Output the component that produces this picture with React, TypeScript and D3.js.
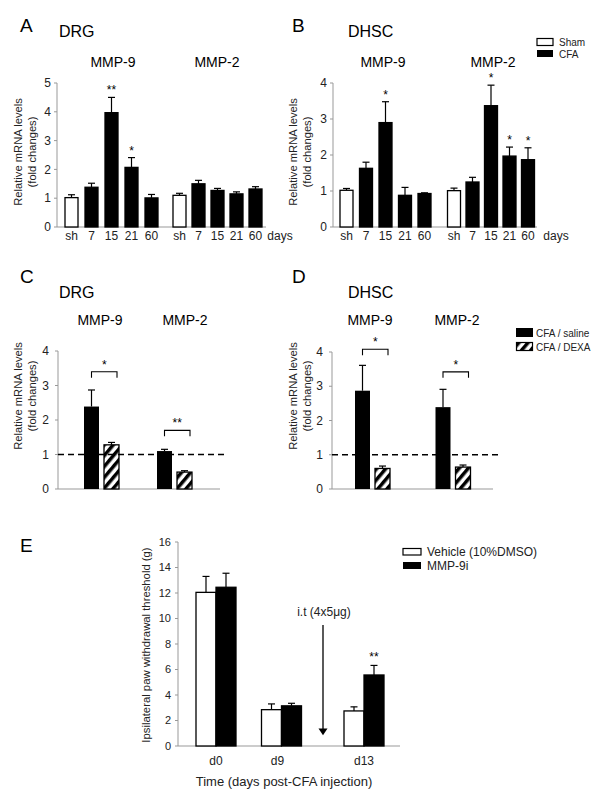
import React from "react";
import * as d3 from "d3";

// ---------- DATA ----------
const days = ["sh", "7", "15", "21", "60"];
const genes = ["MMP-9", "MMP-2"];

// Panel A (DRG time course)
const drgMmp9 = [1.02, 1.38, 3.97, 2.07, 1.01];
const drgMmp9Err = [0.1, 0.14, 0.53, 0.34, 0.12];
const drgMmp9Sig = ["", "", "**", "*", ""];
const drgMmp2 = [1.1, 1.5, 1.27, 1.15, 1.32];
const drgMmp2Err = [0.07, 0.12, 0.07, 0.07, 0.08];
const drgMmp2Sig = ["", "", "", "", ""];

// Panel B (DHSC time course)
const dhscMmp9 = [1.02, 1.63, 2.9, 0.88, 0.93];
const dhscMmp9Err = [0.05, 0.17, 0.58, 0.22, 0.02];
const dhscMmp9Sig = ["", "", "*", "", ""];
const dhscMmp2 = [1.01, 1.25, 3.37, 1.97, 1.87];
const dhscMmp2Err = [0.07, 0.13, 0.57, 0.25, 0.33];
const dhscMmp2Sig = ["", "", "*", "*", "*"];

// Panel C (DRG, saline vs DEXA)
const drgSaline = [2.39, 1.1];
const drgSalineErr = [0.48, 0.05];
const drgDexa = [1.28, 0.49];
const drgDexaErr = [0.07, 0.04];
const drgBracket = [3.4, 1.7];
const drgBracketSig = ["*", "**"];

// Panel D (DHSC, saline vs DEXA)
const dhscSaline = [2.87, 2.39];
const dhscSalineErr = [0.74, 0.52];
const dhscDexa = [0.6, 0.64];
const dhscDexaErr = [0.07, 0.06];
const dhscBracket = [4.08, 3.42];
const dhscBracketSig = ["*", "*"];

// Panel E (paw withdrawal)
const timepoints = ["d0", "d9", "d13"];
const vehicle = [12.05, 2.85, 2.75];
const vehicleErr = [1.25, 0.45, 0.32];
const mmp9i = [12.45, 3.15, 5.57];
const mmp9iErr = [1.1, 0.2, 0.75];
const mmp9iSig = ["", "", "**"];
const yTicksE = [0, 2, 4, 6, 8, 10, 12, 14, 16];

const FONT = "'Liberation Sans', Arial, Helvetica, sans-serif";
const AXIS = "#999";

type Lin = d3.ScaleLinear<number, number>;

function ErrorBar({ x, y, top, cap = 7 }: { x: number; y: number; top: number; cap?: number }) {
  return (
    <g stroke="#000" strokeWidth={1.2}>
      <line x1={x} x2={x} y1={y} y2={top} />
      <line x1={x - cap / 2} x2={x + cap / 2} y1={top} y2={top} />
    </g>
  );
}

function YAxis({ y, x, ticks, x2, fontSize = 12, labelOffset = 6 }: { y: Lin; x: number; ticks: number[]; x2: number; fontSize?: number; labelOffset?: number }) {
  const [y0, y1] = y.range();
  return (
    <g>
      <line x1={x} x2={x} y1={y0} y2={y1} stroke={AXIS} strokeWidth={1} />
      <line x1={x} x2={x2} y1={y0} y2={y0} stroke={AXIS} strokeWidth={1} />
      {ticks.map((t) => (
        <g key={t}>
          <line x1={x - 3} x2={x} y1={y(t)} y2={y(t)} stroke={AXIS} />
          <text x={x - labelOffset} y={y(t)} dy="0.35em" textAnchor="end" fontSize={fontSize} fill="#222">
            {t}
          </text>
        </g>
      ))}
    </g>
  );
}

function YLabel2({ x1, x2, cy }: { x1: number; x2: number; cy: number }) {
  return (
    <g fontSize={11.2} fill="#222" textAnchor="middle">
      <text transform={`translate(${x1},${cy}) rotate(-90)`} dy="0.35em">Relative mRNA levels</text>
      <text transform={`translate(${x2},${cy}) rotate(-90)`} dy="0.35em">(fold changes)</text>
    </g>
  );
}

function TimeCourse(props: {
  letter: string; lx: number; tissue: string; tx: number;
  axisX: number; axisEnd: number; y: Lin; ticks: number[];
  ranges: [number, number][]; series: number[][]; errs: number[][]; sigs: string[][];
  titleX: number[]; daysX: number; ylx: [number, number];
}) {
  const { y } = props;
  const bw = 13;
  return (
    <g>
      <text x={props.lx} y={32} fontSize={19}>{props.letter}</text>
      <text x={props.tx} y={37} fontSize={16}>{props.tissue}</text>
      <YLabel2 x1={props.ylx[0]} x2={props.ylx[1]} cy={152} />
      <YAxis y={y} x={props.axisX} ticks={props.ticks} x2={props.axisEnd} />
      {genes.map((g, gi) => {
        const xs = d3.scalePoint<string>().domain(days).range(props.ranges[gi]);
        return (
          <g key={g}>
            <text x={props.titleX[gi]} y={67} fontSize={14} textAnchor="middle">{g}</text>
            {days.map((d, i) => {
              const v = props.series[gi][i];
              const e = props.errs[gi][i];
              const cx = xs(d)!;
              return (
                <g key={d}>
                  <ErrorBar x={cx} y={y(v)} top={y(v + e)} />
                  <rect x={cx - bw / 2} y={y(v)} width={bw} height={y(0) - y(v)} fill={i === 0 ? "#fff" : "#000"} stroke="#000" strokeWidth={1.3} />
                  {props.sigs[gi][i] && (
                    <text x={cx} y={y(v + e) - 3} fontSize={12} textAnchor="middle">{props.sigs[gi][i]}</text>
                  )}
                  <text x={cx} y={240} fontSize={12} textAnchor="middle" fill="#222">{d}</text>
                </g>
              );
            })}
          </g>
        );
      })}
      <text x={props.daysX} y={240} fontSize={12} textAnchor="middle" fill="#222">days</text>
    </g>
  );
}

function DexaPanel(props: {
  letter: string; lx: number; tissue: string; tx: number;
  axisX: number; axisEnd: number; y: Lin; range: [number, number];
  saline: number[]; salineErr: number[]; dexa: number[]; dexaErr: number[];
  bracket: number[]; bracketSig: string[]; titleX: number[]; ylx: [number, number];
}) {
  const { y } = props;
  const xs = d3.scalePoint<string>().domain(genes).range(props.range);
  const bw = 15;
  return (
    <g>
      <text x={props.lx} y={283} fontSize={19}>{props.letter}</text>
      <text x={props.tx} y={298} fontSize={16}>{props.tissue}</text>
      <YLabel2 x1={props.ylx[0]} x2={props.ylx[1]} cy={396} />
      <YAxis y={y} x={props.axisX} ticks={[0, 1, 2, 3, 4]} x2={props.axisEnd} fontSize={12} labelOffset={9} />
      {genes.map((g, gi) => {
        const c = xs(g)!;
        const xs1 = c - 10;
        const xs2 = c + 10;
        const by = y(props.bracket[gi]);
        return (
          <g key={g}>
            <text x={props.titleX[gi]} y={325} fontSize={14} textAnchor="middle">{g}</text>
            <ErrorBar x={xs1} y={y(props.saline[gi])} top={y(props.saline[gi] + props.salineErr[gi])} />
            <rect x={xs1 - bw / 2} y={y(props.saline[gi])} width={bw} height={y(0) - y(props.saline[gi])} fill="#000" />
            <ErrorBar x={xs2} y={y(props.dexa[gi])} top={y(props.dexa[gi] + props.dexaErr[gi])} />
            <rect x={xs2 - bw / 2} y={y(props.dexa[gi])} width={bw} height={y(0) - y(props.dexa[gi])} fill="url(#hatch)" stroke="#000" strokeWidth={1.3} />
            <path d={`M${xs1},${by + 6}V${by}H${xs2 + 5.5}V${by + 6}`} fill="none" stroke="#000" strokeWidth={1.1} />
            <text x={(xs1 + xs2 + 5.5) / 2} y={by - 3} fontSize={12} textAnchor="middle">{props.bracketSig[gi]}</text>
          </g>
        );
      })}
      <line x1={props.axisX} x2={props.axisEnd + 6} y1={y(1)} y2={y(1)} stroke="#000" strokeWidth={1.6} strokeDasharray="6,4" />
    </g>
  );
}

export default function App() {
  const yA = d3.scaleLinear().domain([0, 5]).range([227, 83]);
  const yB = d3.scaleLinear().domain([0, 4]).range([227, 83]);
  const yC = d3.scaleLinear().domain([0, 4]).range([489, 351]);
  const yD = d3.scaleLinear().domain([0, 4]).range([489, 352]);
  const yE = d3.scaleLinear().domain([0, 16]).range([746, 542]);
  const xE = d3.scaleOrdinal<string, number>().domain(timepoints).range([216, 281.5, 364]);
  const bwE = 20;

  return (
    <svg width={600} height={804} style={{ position: "absolute", left: 0, top: 0, background: "#fff" }} fontFamily={FONT}>
      <defs>
        <pattern id="hatch" patternUnits="userSpaceOnUse" width={7} height={7} patternTransform="rotate(40)">
          <rect width={7} height={7} fill="#fff" />
          <rect width={3.5} height={7} fill="#000" />
        </pattern>
      </defs>
      <rect width={600} height={804} fill="#fff" />

      <TimeCourse letter="A" lx={20} tissue="DRG" tx={59} axisX={57} axisEnd={266} y={yA} ticks={[0, 1, 2, 3, 4, 5]}
        ranges={[[71.5, 151.5], [179.5, 255.5]]} series={[drgMmp9, drgMmp2]} errs={[drgMmp9Err, drgMmp2Err]} sigs={[drgMmp9Sig, drgMmp2Sig]}
        titleX={[113, 217]} daysX={280} ylx={[18, 32]} />
      <TimeCourse letter="B" lx={292} tissue="DHSC" tx={348} axisX={333} axisEnd={537} y={yB} ticks={[0, 1, 2, 3, 4]}
        ranges={[[346.5, 424.5], [454, 528]]} series={[dhscMmp9, dhscMmp2]} errs={[dhscMmp9Err, dhscMmp2Err]} sigs={[dhscMmp9Sig, dhscMmp2Sig]}
        titleX={[383, 493]} daysX={556} ylx={[293, 307]} />

      {/* Legend A/B */}
      <g fontSize={10} fill="#222">
        <rect x={537} y={38.5} width={16} height={7} fill="#fff" stroke="#000" strokeWidth={1.2} />
        <text x={559} y={45.5}>Sham</text>
        <rect x={537} y={50} width={16} height={7} fill="#000" />
        <text x={559} y={57.5}>CFA</text>
      </g>

      <DexaPanel letter="C" lx={20} tissue="DRG" tx={59} axisX={58} axisEnd={220} y={yC} range={[101.5, 174.5]}
        saline={drgSaline} salineErr={drgSalineErr} dexa={drgDexa} dexaErr={drgDexaErr}
        bracket={drgBracket} bracketSig={drgBracketSig} titleX={[100, 185]} ylx={[18, 32]} />
      <DexaPanel letter="D" lx={292} tissue="DHSC" tx={348} axisX={332} axisEnd={493} y={yD} range={[372.5, 453]}
        saline={dhscSaline} salineErr={dhscSalineErr} dexa={dhscDexa} dexaErr={dhscDexaErr}
        bracket={dhscBracket} bracketSig={dhscBracketSig} titleX={[370, 457]} ylx={[293, 307]} />

      {/* Legend C/D */}
      <g fontSize={10} fill="#222">
        <rect x={516} y={328} width={17} height={9} fill="#000" />
        <text x={536} y={336.5}>CFA / saline</text>
        <rect x={516.5} y={342.5} width={16} height={8} fill="url(#hatch)" stroke="#000" strokeWidth={1.2} />
        <text x={536} y={350.5}>CFA / DEXA</text>
      </g>

      {/* Panel E */}
      <g>
        <text x={20} y={552} fontSize={19}>E</text>
        <text transform={`translate(146,645) rotate(-90)`} dy="0.35em" fontSize={11.3} textAnchor="middle" fill="#222">
          Ipsilateral paw withdrawal threshold (g)
        </text>
        <YAxis y={yE} x={178} ticks={yTicksE} x2={400} fontSize={11} labelOffset={7} />
        {timepoints.map((t, i) => {
          const c = xE(t);
          return (
            <g key={t}>
              <ErrorBar x={c - bwE / 2} y={yE(vehicle[i])} top={yE(vehicle[i] + vehicleErr[i])} />
              <rect x={c - bwE} y={yE(vehicle[i])} width={bwE} height={yE(0) - yE(vehicle[i])} fill="#fff" stroke="#000" strokeWidth={1.3} />
              <ErrorBar x={c + bwE / 2} y={yE(mmp9i[i])} top={yE(mmp9i[i] + mmp9iErr[i])} />
              <rect x={c} y={yE(mmp9i[i])} width={bwE} height={yE(0) - yE(mmp9i[i])} fill="#000" stroke="#000" strokeWidth={1.3} />
              {mmp9iSig[i] && (
                <text x={c + bwE / 2} y={yE(mmp9i[i] + mmp9iErr[i]) - 4} fontSize={12} textAnchor="middle">{mmp9iSig[i]}</text>
              )}
              <text x={i === 1 ? c - 4 : c} y={765} fontSize={12} textAnchor="middle" fill="#222">{t}</text>
            </g>
          );
        })}
        <text x={284} y={786} fontSize={13} textAnchor="middle" fill="#222">Time (days post-CFA injection)</text>
        <text x={324} y={616} fontSize={12} textAnchor="middle" fill="#222">i.t (4x5μg)</text>
        <line x1={323} x2={323} y1={yE(9.5)} y2={yE(1.3)} stroke="#000" strokeWidth={1.3} />
        <path d={`M${318.5},${yE(1.3) - 1}L${327.5},${yE(1.3) - 1}L323,${yE(0.85)}Z`} fill="#000" />
        <g fontSize={12} fill="#222">
          <rect x={403} y={548.5} width={18} height={6.5} fill="#fff" stroke="#000" strokeWidth={1.2} />
          <text x={427} y={556}>Vehicle (10%DMSO)</text>
          <rect x={403} y={562} width={18} height={7} fill="#000" />
          <text x={427} y={569.5}>MMP-9i</text>
        </g>
      </g>
    </svg>
  );
}
